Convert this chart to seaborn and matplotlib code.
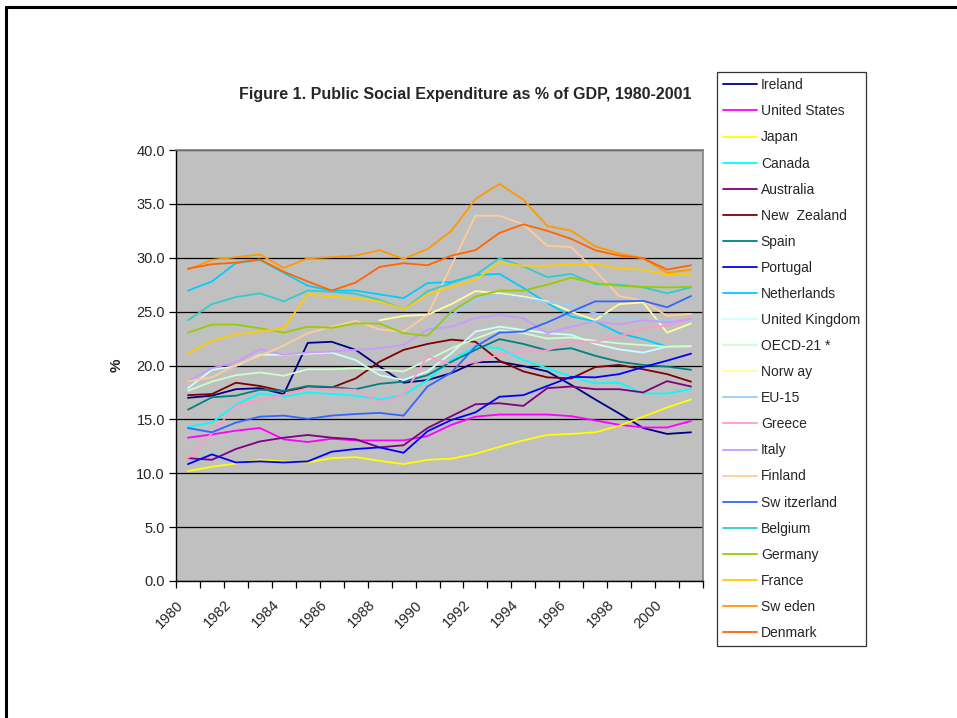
import numpy as np
import pandas as pd
import matplotlib
matplotlib.use("Agg")
import matplotlib.pyplot as plt
from matplotlib.lines import Line2D
import seaborn as sns

years = list(range(1980, 2002))
nan = np.nan

ireland = [17.0, 17.2, 17.8, 17.9, 17.35, 22.1, 22.2, 21.45, 19.9, 18.4, 18.65, 19.3, 20.3, 20.35, 19.95, 19.45, 18.2, 16.85, 15.55, 14.2, 13.65, 13.8]
united_states = [13.3, 13.6, 13.95, 14.2, 13.15, 12.9, 13.2, 13.05, 13.05, 13.05, 13.45, 14.5, 15.25, 15.45, 15.45, 15.45, 15.3, 14.9, 14.5, 14.25, 14.25, 14.85]
japan = [10.2, 10.6, 10.9, 11.25, 11.1, 11.0, 11.4, 11.5, 11.15, 10.85, 11.25, 11.35, 11.8, 12.45, 13.05, 13.55, 13.65, 13.8, 14.4, 15.25, 16.1, 16.85]
canada = [14.3, 14.7, 16.35, 17.4, 17.1, 17.5, 17.35, 17.2, 16.85, 17.25, 18.65, 20.5, 21.75, 21.6, 20.5, 19.75, 18.95, 18.35, 18.4, 17.4, 17.4, 17.8]
australia = [11.4, 11.25, 12.25, 12.95, 13.3, 13.55, 13.3, 13.15, 12.4, 12.6, 14.2, 15.3, 16.4, 16.5, 16.25, 17.9, 18.05, 17.8, 17.8, 17.5, 18.55, 18.05]
new_zealand = [17.25, 17.35, 18.4, 18.1, 17.6, 18.0, 17.95, 18.8, 20.35, 21.45, 22.0, 22.4, 22.2, 20.45, 19.45, 18.9, 18.8, 19.85, 20.05, 19.65, 19.2, 18.5]
spain = [15.9, 17.05, 17.2, 17.75, 17.65, 18.1, 18.0, 17.8, 18.3, 18.5, 19.1, 20.35, 21.45, 22.45, 22.0, 21.4, 21.6, 20.9, 20.35, 20.05, 19.9, 19.6]
portugal = [10.85, 11.75, 11.0, 11.1, 11.0, 11.1, 12.0, 12.25, 12.4, 11.9, 13.9, 14.95, 15.65, 17.1, 17.25, 18.1, 18.95, 18.9, 19.2, 19.85, 20.45, 21.1]
netherlands = [26.95, 27.8, 29.5, 29.8, 28.6, 27.4, 26.95, 26.95, 26.6, 26.25, 27.65, 27.75, 28.4, 28.5, 27.2, 25.8, 24.55, 24.1, 23.0, 22.45, 21.75, 21.75]
united_kingdom = [17.9, 19.6, 19.95, 21.0, 21.0, 21.1, 21.2, 20.5, 19.1, 18.65, 19.45, 21.15, 23.15, 23.6, 23.3, 23.0, 22.85, 22.0, 21.5, 21.2, 21.75, 21.8]
oecd_21 = [17.65, 18.5, 19.1, 19.35, 19.05, 19.65, 19.65, 19.75, 19.6, 19.45, 20.5, 21.6, 22.5, 23.3, 23.0, 22.5, 22.6, 22.3, 22.05, 21.9, 21.75, 21.75]
norway = [nan, nan, nan, nan, nan, nan, nan, nan, 24.2, 24.6, 24.7, 25.7, 26.9, 26.7, 26.4, 25.95, 25.0, 24.2, 25.7, 25.85, 23.05, 23.9]
eu_15 = [nan, nan, nan, nan, nan, nan, nan, nan, nan, nan, 23.3, 24.7, 26.1, 26.55, 26.25, 25.85, 25.6, 24.85, 24.3, 24.25, 24.1, 24.25]
greece = [11.4, 13.7, 16.25, 16.8, 17.25, 17.9, 17.8, 17.75, 16.55, 17.25, 20.9, 20.05, 20.3, 21.0, 21.3, 21.4, 22.2, 22.2, 22.7, 23.45, 23.7, 24.4]
italy = [18.55, 19.75, 20.3, 21.5, 21.0, 21.2, 21.3, 21.45, 21.6, 21.9, 23.35, 23.6, 24.4, 24.7, 24.4, 23.0, 23.6, 24.1, 23.8, 24.2, 24.0, 24.3]
finland = [18.55, 18.9, 20.05, 20.9, 21.85, 23.0, 23.6, 24.15, 23.35, 23.15, 24.7, 29.3, 33.9, 33.9, 33.1, 31.1, 31.0, 28.8, 26.45, 26.0, 24.6, 24.8]
switzerland = [14.2, 13.8, 14.7, 15.25, 15.35, 15.05, 15.35, 15.5, 15.6, 15.35, 18.05, 19.35, 21.75, 23.05, 23.15, 24.0, 25.0, 25.95, 25.95, 26.0, 25.4, 26.45]
belgium = [24.2, 25.7, 26.35, 26.7, 25.95, 26.95, 26.85, 26.65, 26.1, 25.2, 26.9, 27.65, 28.4, 29.95, 29.2, 28.2, 28.5, 27.55, 27.5, 27.25, 26.7, 27.25]
germany = [23.05, 23.8, 23.8, 23.45, 23.05, 23.6, 23.5, 23.9, 23.9, 23.0, 22.75, 25.0, 26.4, 26.95, 26.95, 27.5, 28.15, 27.65, 27.4, 27.3, 27.25, 27.3]
france = [21.1, 22.3, 22.9, 23.15, 23.45, 26.6, 26.4, 26.25, 25.95, 25.2, 26.6, 27.3, 27.95, 29.55, 29.25, 29.25, 29.4, 29.4, 29.0, 28.9, 28.4, 28.5]
sweden = [28.9, 29.8, 30.05, 30.3, 29.05, 29.95, 30.05, 30.2, 30.7, 29.9, 30.8, 32.5, 35.45, 36.85, 35.4, 32.95, 32.5, 31.05, 30.4, 29.95, 28.6, 28.9]
denmark = [29.0, 29.4, 29.55, 29.85, 28.7, 27.8, 26.95, 27.7, 29.15, 29.5, 29.3, 30.2, 30.7, 32.3, 33.1, 32.5, 31.75, 30.7, 30.2, 29.95, 28.9, 29.3]

series = [
    ("Ireland", ireland, "#000080"),
    ("United States", united_states, "#FF00FF"),
    ("Japan", japan, "#FFFF00"),
    ("Canada", canada, "#00FFFF"),
    ("Australia", australia, "#800080"),
    ("New  Zealand", new_zealand, "#800000"),
    ("Spain", spain, "#008080"),
    ("Portugal", portugal, "#0000FF"),
    ("Netherlands", netherlands, "#00CCFF"),
    ("United Kingdom", united_kingdom, "#CCFFFF"),
    ("OECD-21 *", oecd_21, "#CCFFCC"),
    ("Norw ay", norway, "#FFFF99"),
    ("EU-15", eu_15, "#99CCFF"),
    ("Greece", greece, "#FF99CC"),
    ("Italy", italy, "#CC99FF"),
    ("Finland", finland, "#FFCC99"),
    ("Sw itzerland", switzerland, "#3366FF"),
    ("Belgium", belgium, "#33CCCC"),
    ("Germany", germany, "#99CC00"),
    ("France", france, "#FFCC00"),
    ("Sw eden", sweden, "#FF9900"),
    ("Denmark", denmark, "#FF6600"),
]

rows = []
for name, vals, _ in series:
    for i, (yr, v) in enumerate(zip(years, vals)):
        rows.append({"pos": i, "year": yr, "country": name, "value": v})
df = pd.DataFrame(rows)
order = [name for name, _, _ in series]

sns.set_theme(style="white")
plt.rcParams["font.family"] = ["Liberation Sans", "DejaVu Sans"]

fig = plt.figure(figsize=(9.57, 7.18), dpi=100)
ax = fig.add_axes([176 / 957, 137 / 718, 527 / 957, 431 / 718])
ax.set_facecolor("#C0C0C0")

for name, vals, col in series:
    sub = df[df["country"] == name].dropna(subset=["value"])
    sns.lineplot(data=sub, x="pos", y="value", color=col, lw=1.3, ax=ax,
                 legend=False, zorder=3)

ax.set_xlim(-0.5, len(years) - 0.5)
ax.set_ylim(0, 40)
ax.set_yticks(np.arange(0, 40.1, 5))
ax.set_yticklabels([f"{v:.1f}" for v in np.arange(0, 40.1, 5)], fontsize=10.5)
ax.yaxis.grid(True, color="black", lw=0.9)
ax.set_axisbelow(True)

# category ticks sit on the boundaries, year labels every second year
ax.set_xticks(np.arange(-0.5, len(years), 1.0))
ax.set_xticklabels([])
for i, yr in enumerate(years):
    if yr % 2 == 0:
        ax.text(i - 0.5, -1.55, str(yr), rotation=45, ha="right", va="top",
                rotation_mode="anchor", fontsize=10.5, transform=ax.transData)

ax.tick_params(axis="both", direction="out", length=5, width=0.9, color="black",
               bottom=True, left=True, pad=3)
ax.set_xlabel("")
ax.set_ylabel("%", fontsize=11, fontweight="bold", labelpad=9)

for side in ["top", "right"]:
    ax.spines[side].set_color("#808080")
    ax.spines[side].set_linewidth(1.2)
for side in ["left", "bottom"]:
    ax.spines[side].set_color("black")
    ax.spines[side].set_linewidth(1.0)

fig.text(465 / 957, 1 - 94 / 718, "Figure 1. Public Social Expenditure as % of GDP, 1980-2001",
         ha="center", va="center", fontsize=11.5, fontweight="bold")

handles = [Line2D([0], [0], color=col, lw=1.3) for _, _, col in series]
leg = fig.legend(handles, order, loc="upper left",
                 bbox_to_anchor=(717 / 957, 1 - 72 / 718),
                 fontsize=10, frameon=True, fancybox=False, edgecolor="black",
                 borderpad=0.45, labelspacing=0.87, handlelength=2.4,
                 handletextpad=0.3, borderaxespad=0)
leg.get_frame().set_linewidth(0.9)

# outer frame of the page
fig.add_artist(Line2D([6 / 957, 6 / 957], [0, 1 - 7 / 718], color="black", lw=2.2,
                      transform=fig.transFigure))
fig.add_artist(Line2D([6 / 957, 1], [1 - 7 / 718, 1 - 7 / 718], color="black", lw=2.2,
                      transform=fig.transFigure))

fig.savefig("out.png", dpi=100, facecolor="white")
